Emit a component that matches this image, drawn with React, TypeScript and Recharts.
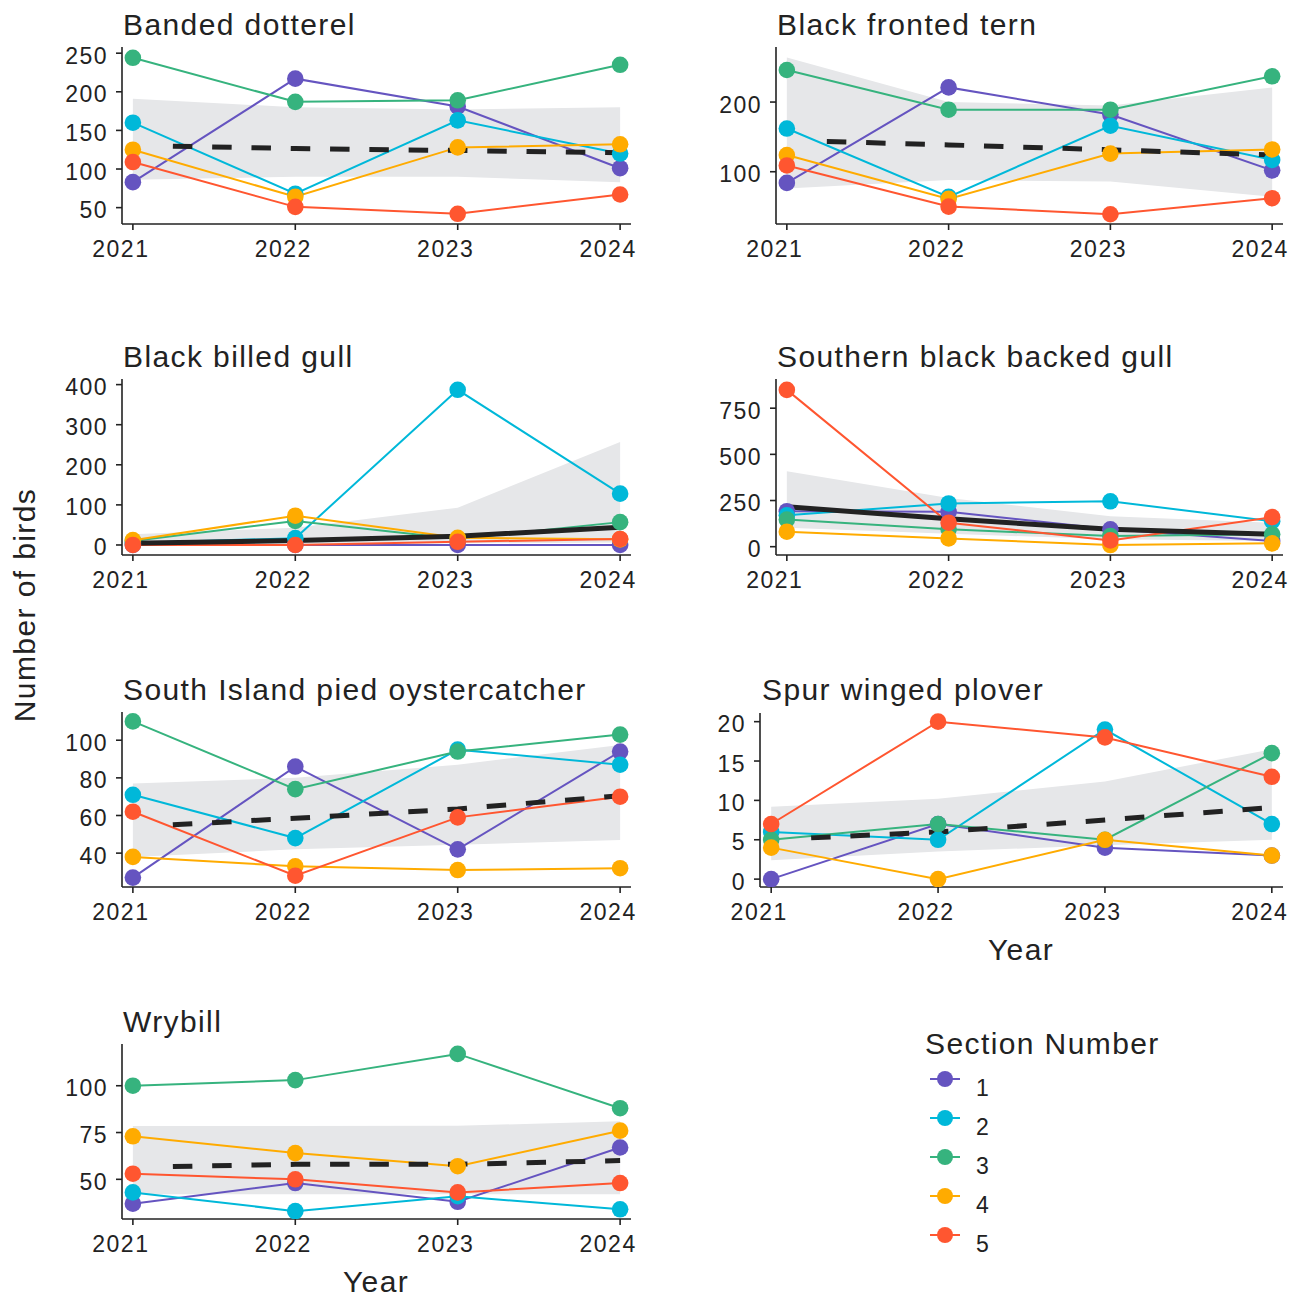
import React from "react";
import { ComposedChart, Line, Area, XAxis, YAxis } from "recharts";

const FONT = "'Liberation Sans', Arial, Helvetica, sans-serif";
const INK = "#222222";
const BAND = "#E6E7E9";

const years = [2021, 2022, 2023, 2024];
const sectionLabels = ["1", "2", "3", "4", "5"];
const sectionColors = ["#6554C0", "#00B8D9", "#36B37E", "#FFAB00", "#FF5630"];

// counts per section (rows = sections 1..5, cols = years)
const dotterelCounts = [
  [83, 217, 181, 101],
  [160, 68, 163, 120],
  [244, 187, 189, 235],
  [125, 64, 128, 132],
  [109, 51, 42, 67],
];
const dotterelTrend = [130.5, 126.5, 124, 121];
const dotterelLow = [86, 90, 90, 83];
const dotterelHigh = [191, 180, 177, 180];

const ternCounts = [
  [84, 221, 182, 102],
  [162, 64, 166, 117],
  [246, 189, 189, 237],
  [124, 61, 126, 132],
  [109, 50, 39, 62],
];
const ternTrend = [145, 138.5, 131.5, 124];
const ternLow = [76, 88, 86, 64];
const ternHigh = [264, 200, 195, 221];

const billedGullCounts = [
  [0, 0, 0, 0],
  [5, 17, 387, 128],
  [10, 60, 15, 57],
  [12, 73, 18, 14],
  [0, 0, 8, 15],
];
const billedGullTrend = [4, 11, 22, 44];
const billedGullLow = [0, 2, 4, 6];
const billedGullHigh = [27, 43, 93, 257];

const backedGullCounts = [
  [192, 189, 94, 31],
  [170, 234, 246, 138],
  [147, 94, 58, 67],
  [81, 45, 9, 18],
  [849, 130, 34, 160],
];
const backedGullTrend = [216, 151, 94, 67];
const backedGullLow = [103, 70, 40, 31];
const backedGullHigh = [408, 264, 165, 129];

const oysterCounts = [
  [27, 86, 42, 94],
  [71, 48, 95, 87],
  [110, 74, 94, 103],
  [38, 33, 31, 32],
  [62, 28, 59, 70],
];
const oysterTrend = [54, 58.5, 63.5, 70.5];
const oysterLow = [38, 42, 44.5, 47];
const oysterHigh = [77, 80, 87, 97.5];

const ploverCounts = [
  [0, 7, 4, 3],
  [6, 5, 19, 7],
  [5, 7, 5, 16],
  [4, 0, 5, 3],
  [7, 20, 18, 13],
];
const ploverTrend = [5, 6, 7.5, 9.1];
const ploverLow = [2.4, 3.5, 4.3, 5];
const ploverHigh = [9.2, 10.2, 12.4, 16.5];

const wrybillCounts = [
  [37, 48, 38, 67],
  [43, 33, 41, 34],
  [100, 103, 117, 88],
  [73, 64, 57, 76],
  [53, 50, 43, 48],
];
const wrybillTrend = [56.5, 58, 58, 60];
const wrybillLow = [42, 42, 42, 42];
const wrybillHigh = [78.5, 78.5, 78.6, 81];

const X_PAD = 0.067;
const DASHES = "0 40 " + Array(16).fill("19.5 19.8").join(" ");

const panels = [
  { title: "Banded dotterel", counts: dotterelCounts, trend: dotterelTrend, low: dotterelLow, high: dotterelHigh, solid: false,
    x0: 122, x1: 631, y0: 47, y1: 224, yDomain: [28.8, 258], yTicks: [50, 100, 150, 200, 250], titleX: 123, titleY: 35 },
  { title: "Black fronted tern", counts: ternCounts, trend: ternTrend, low: ternLow, high: ternHigh, solid: false,
    x0: 776, x1: 1283, y0: 47, y1: 224, yDomain: [25, 279], yTicks: [100, 200], titleX: 777, titleY: 35 },
  { title: "Black billed gull", counts: billedGullCounts, trend: billedGullTrend, low: billedGullLow, high: billedGullHigh, solid: true,
    x0: 122, x1: 631, y0: 379, y1: 555, yDomain: [-25, 414], yTicks: [0, 100, 200, 300, 400], titleX: 123, titleY: 367 },
  { title: "Southern black backed gull", counts: backedGullCounts, trend: backedGullTrend, low: backedGullLow, high: backedGullHigh, solid: true,
    x0: 776, x1: 1283, y0: 379, y1: 555, yDomain: [-45, 908], yTicks: [0, 250, 500, 750], titleX: 777, titleY: 367 },
  { title: "South Island pied oystercatcher", counts: oysterCounts, trend: oysterTrend, low: oysterLow, high: oysterHigh, solid: false,
    x0: 122, x1: 631, y0: 712, y1: 887, yDomain: [22, 115], yTicks: [40, 60, 80, 100], titleX: 123, titleY: 700 },
  { title: "Spur winged plover", counts: ploverCounts, trend: ploverTrend, low: ploverLow, high: ploverHigh, solid: false,
    x0: 760, x1: 1283, y0: 713, y1: 887, yDomain: [-1, 21.1], yTicks: [0, 5, 10, 15, 20], titleX: 762, titleY: 700 },
  { title: "Wrybill", counts: wrybillCounts, trend: wrybillTrend, low: wrybillLow, high: wrybillHigh, solid: false,
    x0: 122, x1: 631, y0: 1044, y1: 1219, yDomain: [28.8, 122.3], yTicks: [50, 75, 100], titleX: 123, titleY: 1032 },
];

const XTick = (props: any) => {
  const { x, y, payload } = props;
  return (
    <text x={x - 12} y={y + 24} textAnchor="middle" fontSize={23} letterSpacing={1.5} fill={INK} fontFamily={FONT}>
      {payload.value}
    </text>
  );
};

const YTick = (props: any) => {
  const { x, y, payload } = props;
  return (
    <text x={x} y={y + 10.5} textAnchor="end" fontSize={23} letterSpacing={1.5} fill={INK} fontFamily={FONT}>
      {payload.value}
    </text>
  );
};

function Panel({ p }: { p: (typeof panels)[number] }) {
  const data = years.map((year, i) => {
    const row: any = { year, trend: p.trend[i], band: [p.low[i], p.high[i]] };
    p.counts.forEach((s, k) => (row["s" + (k + 1)] = s[i]));
    return row;
  });
  const Y_W = 70;
  return (
    <div style={{ position: "absolute", left: p.x0 - Y_W, top: p.y0 - 10 }}>
      <ComposedChart
        width={p.x1 - p.x0 + Y_W + 12}
        height={p.y1 - p.y0 + 10 + 50}
        data={data}
        margin={{ top: 10, right: 12, left: 0, bottom: 0 }}
      >
        <XAxis
          dataKey="year"
          type="number"
          domain={[2021 - X_PAD, 2024 + X_PAD]}
          ticks={years}
          allowDataOverflow
          interval={0}
          height={50}
          tick={XTick}
          tickSize={6}
          tickMargin={3}
          axisLine={{ stroke: INK, strokeWidth: 1.6 }}
          tickLine={{ stroke: INK, strokeWidth: 1.6 }}
        />
        <YAxis
          type="number"
          domain={p.yDomain}
          ticks={p.yTicks}
          allowDataOverflow
          interval={0}
          width={Y_W}
          tick={YTick}
          tickSize={6}
          tickMargin={8}
          axisLine={{ stroke: INK, strokeWidth: 1.6 }}
          tickLine={{ stroke: INK, strokeWidth: 1.6 }}
        />
        <Area type="linear" dataKey="band" fill={BAND} fillOpacity={1} stroke="none" isAnimationActive={false} legendType="none" />
        {sectionLabels.map((s, k) => (
          <Line key={"l" + s} type="linear" dataKey={"s" + (k + 1)} stroke={sectionColors[k]} strokeWidth={2}
            dot={false} activeDot={false} isAnimationActive={false} legendType="none" />
        ))}
        {sectionLabels.map((s, k) => (
          <Line key={"p" + s} type="linear" dataKey={"s" + (k + 1)} stroke="none" strokeWidth={0}
            dot={{ r: 8.3, fill: sectionColors[k], stroke: "none" }} activeDot={false} isAnimationActive={false} legendType="none" />
        ))}
        <Line type="linear" dataKey="trend" stroke={INK} strokeWidth={5}
          strokeDasharray={p.solid ? undefined : DASHES} dot={false} activeDot={false}
          isAnimationActive={false} legendType="none" />
      </ComposedChart>
    </div>
  );
}

export default function App() {
  const legendY = [1079, 1118, 1157, 1196, 1235];
  return (
    <div style={{ position: "absolute", left: 0, top: 0, width: 1301, height: 1297, background: "#fff", fontFamily: FONT }}>
      {panels.map((p) => (
        <Panel key={p.title} p={p} />
      ))}
      <svg width={1301} height={1297} style={{ position: "absolute", left: 0, top: 0, pointerEvents: "none" }}>
        <g fontFamily={FONT} fill={INK}>
          {panels.map((p) => (
            <text key={p.title} x={p.titleX} y={p.titleY} fontSize={30} letterSpacing={1.4}>
              {p.title}
            </text>
          ))}
          <text x={376} y={1292} fontSize={30} letterSpacing={1.4} textAnchor="middle">Year</text>
          <text x={1021} y={960} fontSize={30} letterSpacing={1.4} textAnchor="middle">Year</text>
          <text x={35} y={605} fontSize={30} letterSpacing={1.4} textAnchor="middle" transform="rotate(-90 35 605)">
            Number of birds
          </text>
          <text x={925} y={1054} fontSize={30} letterSpacing={1.4}>Section Number</text>
          {sectionLabels.map((s, k) => (
            <g key={s}>
              <line x1={930} x2={960} y1={legendY[k]} y2={legendY[k]} stroke={sectionColors[k]} strokeWidth={2} />
              <circle cx={945} cy={legendY[k]} r={8} fill={sectionColors[k]} />
              <text x={976} y={legendY[k] + 17} fontSize={23} letterSpacing={1.5}>{s}</text>
            </g>
          ))}
        </g>
      </svg>
    </div>
  );
}
